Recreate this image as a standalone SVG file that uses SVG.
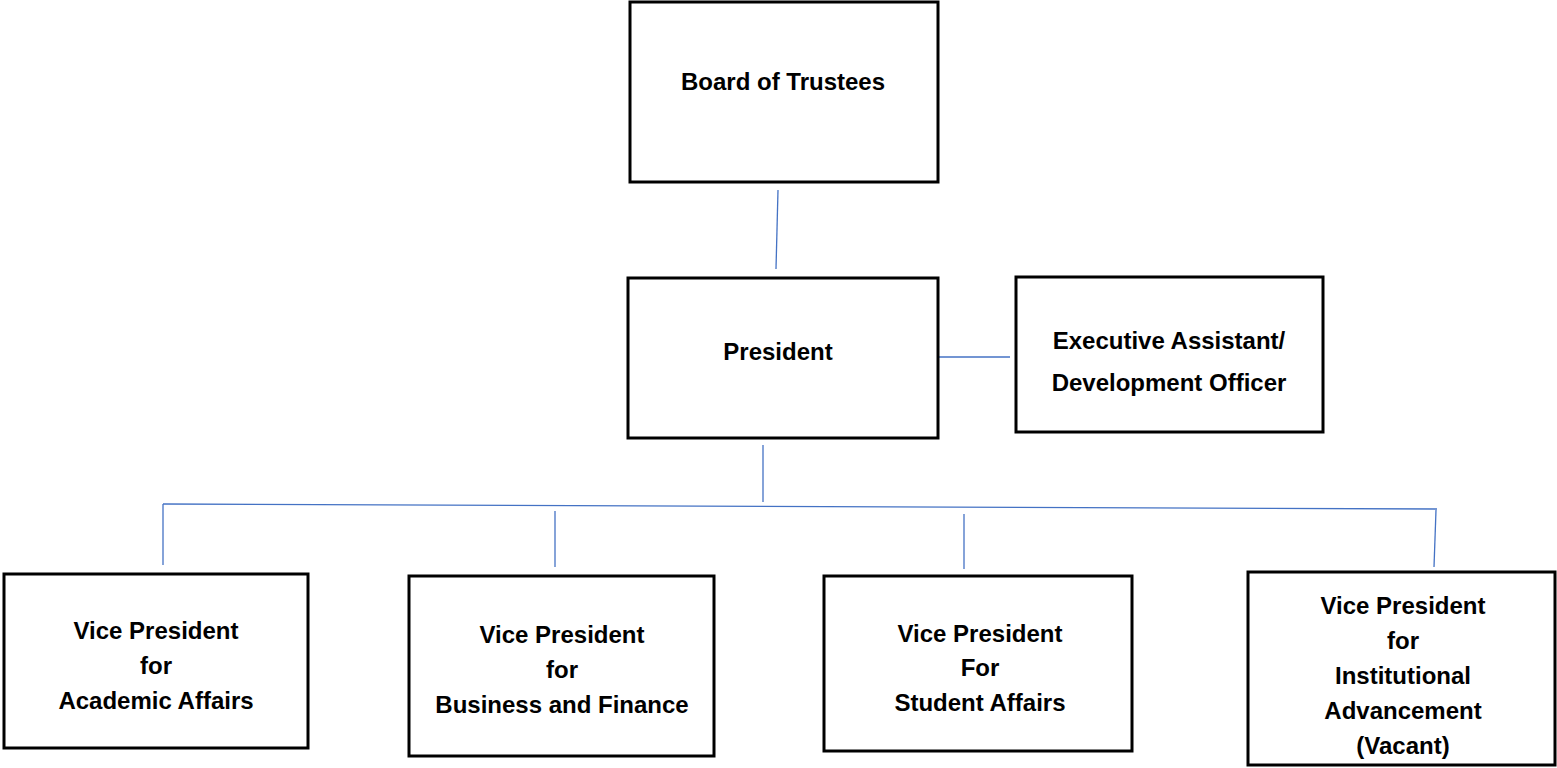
<svg xmlns="http://www.w3.org/2000/svg" width="1557" height="768" viewBox="0 0 1557 768">
<style>
.box{fill:#fff;stroke:#000;stroke-width:3}
.lbl{font-family:"Liberation Sans",Arial,sans-serif;font-weight:bold;font-size:24px;fill:#000;text-anchor:middle}
.con line{stroke:#4472C4;stroke-width:1.3}
</style>
<rect width="1557" height="768" fill="#fff"/>
<g id="connectors" class="con">
<line x1="778" y1="190" x2="776" y2="269"/>
<line x1="937" y1="357" x2="1010" y2="357"/>
<line x1="763" y1="445" x2="763" y2="502"/>
<line x1="163" y1="504" x2="1437" y2="509"/>
<line x1="163" y1="504" x2="163" y2="565"/>
<line x1="555" y1="511" x2="555" y2="567"/>
<line x1="964" y1="514" x2="964" y2="569"/>
<line x1="1436" y1="510" x2="1434" y2="567"/>
</g>
<g id="board"><rect class="box" x="630" y="2" width="308" height="180"/><text class="lbl" x="783" y="90">Board of Trustees</text></g>
<g id="president"><rect class="box" x="628" y="278" width="310" height="160"/><text class="lbl" x="778" y="360">President</text></g>
<g id="exec"><rect class="box" x="1016" y="277" width="307" height="155"/><text class="lbl" x="1169" y="349">Executive Assistant/</text><text class="lbl" x="1169" y="391">Development Officer</text></g>
<g id="vp-academic"><rect class="box" x="4" y="574" width="304" height="174"/><text class="lbl" x="156" y="639">Vice President</text><text class="lbl" x="156" y="674">for</text><text class="lbl" x="156" y="709">Academic Affairs</text></g>
<g id="vp-business"><rect class="box" x="409" y="576" width="305" height="180"/><text class="lbl" x="562" y="643">Vice President</text><text class="lbl" x="562" y="678">for</text><text class="lbl" x="562" y="713">Business and Finance</text></g>
<g id="vp-student"><rect class="box" x="824" y="576" width="308" height="175"/><text class="lbl" x="980" y="642">Vice President</text><text class="lbl" x="980" y="676">For</text><text class="lbl" x="980" y="711">Student Affairs</text></g>
<g id="vp-institutional"><rect class="box" x="1248" y="572" width="307" height="193"/><text class="lbl" x="1403" y="614">Vice President</text><text class="lbl" x="1403" y="649">for</text><text class="lbl" x="1403" y="684">Institutional</text><text class="lbl" x="1403" y="719">Advancement</text><text class="lbl" x="1403" y="754">(Vacant)</text></g>
</svg>
